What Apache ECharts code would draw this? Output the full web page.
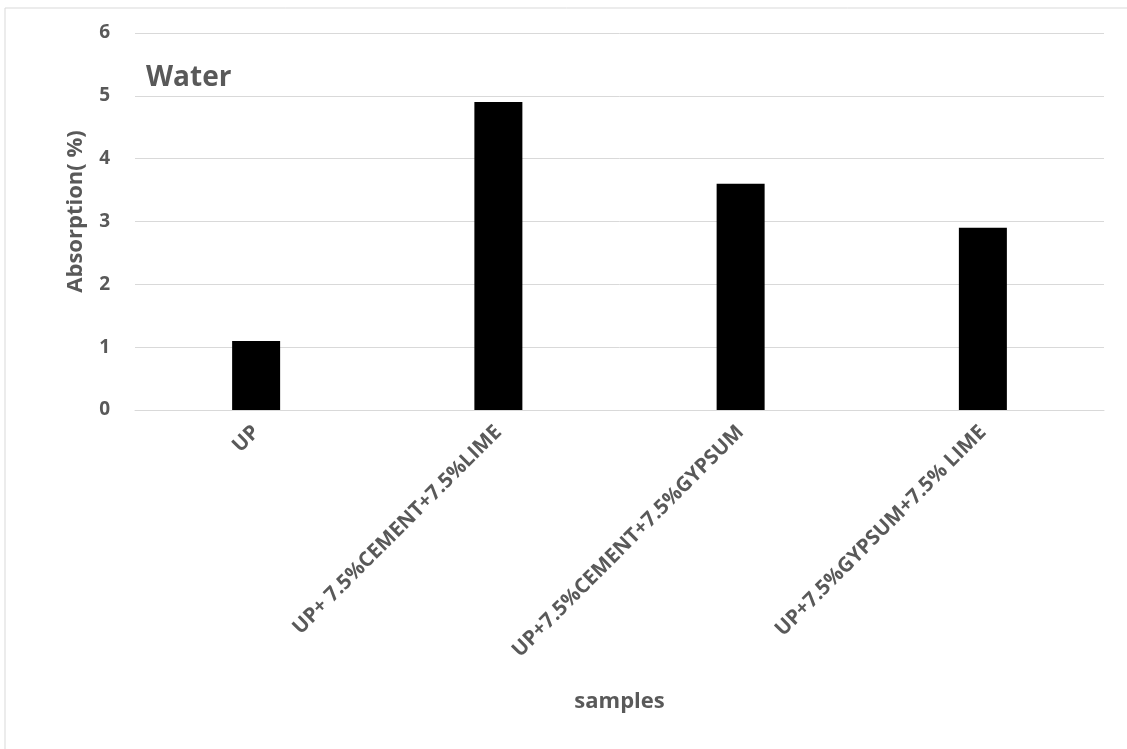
<!DOCTYPE html>
<html>
<head>
<meta charset="utf-8">
<script src="https://cdn.jsdelivr.net/npm/echarts@6/dist/echarts.min.js"></script>
<style>
html,body{margin:0;padding:0;background:#fff;}
#chart{width:1127px;height:749px;}
</style>
</head>
<body>
<div id="chart"></div>
<script>
const categories = ['UP', 'UP+ 7.5%CEMENT+7.5%LIME', 'UP+7.5%CEMENT+7.5%GYPSUM', 'UP+7.5%GYPSUM+7.5% LIME'];
const absorption = [1.1, 4.9, 3.6, 2.9];
const yTicks = { min: 0, max: 6, interval: 1 };
const titleText = 'Water';
const yName = 'Absorption( %)';
const xName = 'samples';

const FONT = '"Open Sans", sans-serif';
const TXT = '#595959';
const chart = echarts.init(document.getElementById('chart'), null, { renderer: 'canvas' });
chart.setOption({
  animation: false,
  backgroundColor: '#ffffff',
  graphic: [
    { type: 'rect', shape: { x: 5, y: 8, width: 1200, height: 800 }, style: { fill: 'none', stroke: '#d9d9d9', lineWidth: 1 }, z: -1 }
  ],
  title: {
    text: titleText,
    left: 141, top: 59,
    textStyle: { fontFamily: FONT, fontWeight: 'bold', fontSize: 28, color: TXT }
  },
  grid: { left: 135, right: 23, top: 33, bottom: 339, containLabel: false },
  xAxis: {
    type: 'category',
    data: categories,
    name: xName,
    nameLocation: 'middle',
    nameGap: 281,
    nameTextStyle: { fontFamily: FONT, fontWeight: 'bold', fontSize: 22, color: TXT },
    axisLine: { show: true, lineStyle: { color: '#d9d9d9', width: 1 } },
    axisTick: { show: false },
    axisLabel: { rotate: 45, margin: 19, interval: 0, fontFamily: FONT, fontWeight: 'bold', fontSize: 20.5, color: TXT }
  },
  yAxis: {
    type: 'value',
    min: yTicks.min, max: yTicks.max, interval: yTicks.interval,
    name: yName,
    nameLocation: 'middle',
    nameGap: 48,
    nameTextStyle: { fontFamily: FONT, fontWeight: 'bold', fontSize: 22, color: TXT, padding: [0, 0, 0, 20] },
    axisLine: { show: false },
    axisTick: { show: false },
    axisLabel: { margin: 25, fontFamily: FONT, fontWeight: 'bold', fontSize: 19, color: TXT },
    splitLine: { lineStyle: { color: '#d9d9d9', width: 1 } }
  },
  series: [{
    type: 'bar',
    data: absorption,
    barWidth: 48,
    itemStyle: { color: '#000000' }
  }]
});
</script>
</body>
</html>
